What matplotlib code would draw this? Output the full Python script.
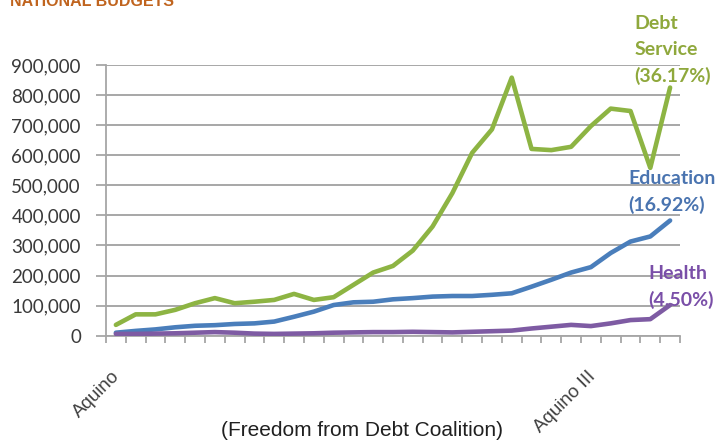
import matplotlib
matplotlib.use("Agg")
import matplotlib.pyplot as plt
import matplotlib.transforms as mtransforms
from matplotlib.ticker import FuncFormatter, FixedLocator

years = list(range(1986, 2015))
tick_labels = {1986: "Aquino", 2010: "Aquino III"}

debt_service = [36000, 71000, 71000, 86000, 108000, 125000, 108000, 113000, 119000, 139000,
                119000, 128000, 169000, 210000, 232000, 283000, 363000, 474000, 608000, 686000,
                858000, 621000, 617000, 628000, 697000, 755000, 747000, 558000, 825000]
education = [10000, 16000, 21000, 28000, 33000, 35000, 39000, 41000, 47000, 63000,
             80000, 102000, 111000, 113000, 121000, 125000, 130000, 132000, 132000, 136000,
             141000, 163000, 186000, 210000, 228000, 275000, 313000, 330000, 383000]
health = [6000, 6000, 7000, 8000, 10000, 12000, 10000, 7000, 6000, 7000,
          8000, 10000, 11000, 12000, 12000, 13000, 12000, 11000, 13000, 15000,
          17000, 24000, 30000, 36000, 32000, 41000, 52000, 55000, 102000]

series_labels = ["Debt\nService\n(36.17%)", "Education\n(16.92%)", "Health\n(4.50%)"]
colors = ["#8DB443", "#4A7EBB", "#7E5BA3"]
label_colors = ["#8FA83C", "#4A74B0", "#7A4FA8"]

fig = plt.figure(figsize=(7.22, 4.44), dpi=100)
ax = fig.add_axes([0.1468, 0.2439, 0.795, 0.6097])

x = list(range(len(years)))
ax.plot(x, debt_service, color=colors[0], lw=3.3, solid_capstyle="round", zorder=3)
ax.plot(x, education, color=colors[1], lw=3.3, solid_capstyle="round", zorder=4)
ax.plot(x, health, color=colors[2], lw=3.3, solid_capstyle="round", zorder=5)

ax.set_xlim(-0.5, len(years) - 0.5)
ax.set_ylim(0, 900000)
ax.set_yticks(range(0, 900001, 100000))
ax.yaxis.set_major_formatter(FuncFormatter(lambda v, p: f"{int(v):,}"))
ax.xaxis.set_major_locator(FixedLocator([i - 0.5 for i in range(len(years) + 1)]))
ax.set_xticklabels([])

ax.grid(axis="y", color="#A0A0A0", lw=1.3)
ax.set_axisbelow(True)
for s in ["top", "right"]:
    ax.spines[s].set_visible(False)
for s in ["left", "bottom"]:
    ax.spines[s].set_color("#A6A6A6")
    ax.spines[s].set_linewidth(1.3)
ax.tick_params(axis="y", length=7, width=1.3, color="#A6A6A6", labelsize=13.5,
               labelcolor="#3A3A3A", pad=11)
ax.tick_params(axis="x", length=5, width=1.3, color="#A6A6A6")
for t in ax.get_yticklabels():
    t.set_fontfamily("Lato")

trans = mtransforms.blended_transform_factory(ax.transData, ax.transAxes)
for i, yr in enumerate(years):
    if yr in tick_labels:
        ax.text(i - 0.22, -0.12, tick_labels[yr], transform=trans, rotation=45,
                ha="right", va="top", rotation_mode="anchor", fontsize=13.5,
                color="#404040", family="Liberation Sans")

# series labels
ax.text(26.2, 1.183, series_labels[0], transform=trans, ha="left", va="top",
        fontsize=14, fontweight="bold", color=label_colors[0], family="Lato",
        linespacing=1.6, clip_on=False)
ax.text(25.9, 552000, series_labels[1], ha="left", va="top", fontsize=14,
        fontweight="bold", color=label_colors[1], family="Lato", linespacing=1.6,
        clip_on=False)
ax.text(26.9, 235000, series_labels[2], ha="left", va="top", fontsize=14,
        fontweight="bold", color=label_colors[2], family="Lato", linespacing=1.6,
        clip_on=False)

fig.text(0.014, 1.0 - 6 / 444, "NATIONAL BUDGETS", ha="left", va="baseline",
         fontsize=11.5, fontweight="bold", color="#C0641E", family="Liberation Sans")
fig.text(0.502, 0.008, "(Freedom from Debt Coalition)", ha="center", va="bottom",
         fontsize=15, color="#202020", family="Liberation Sans")

fig.savefig("out.png", dpi=100)
